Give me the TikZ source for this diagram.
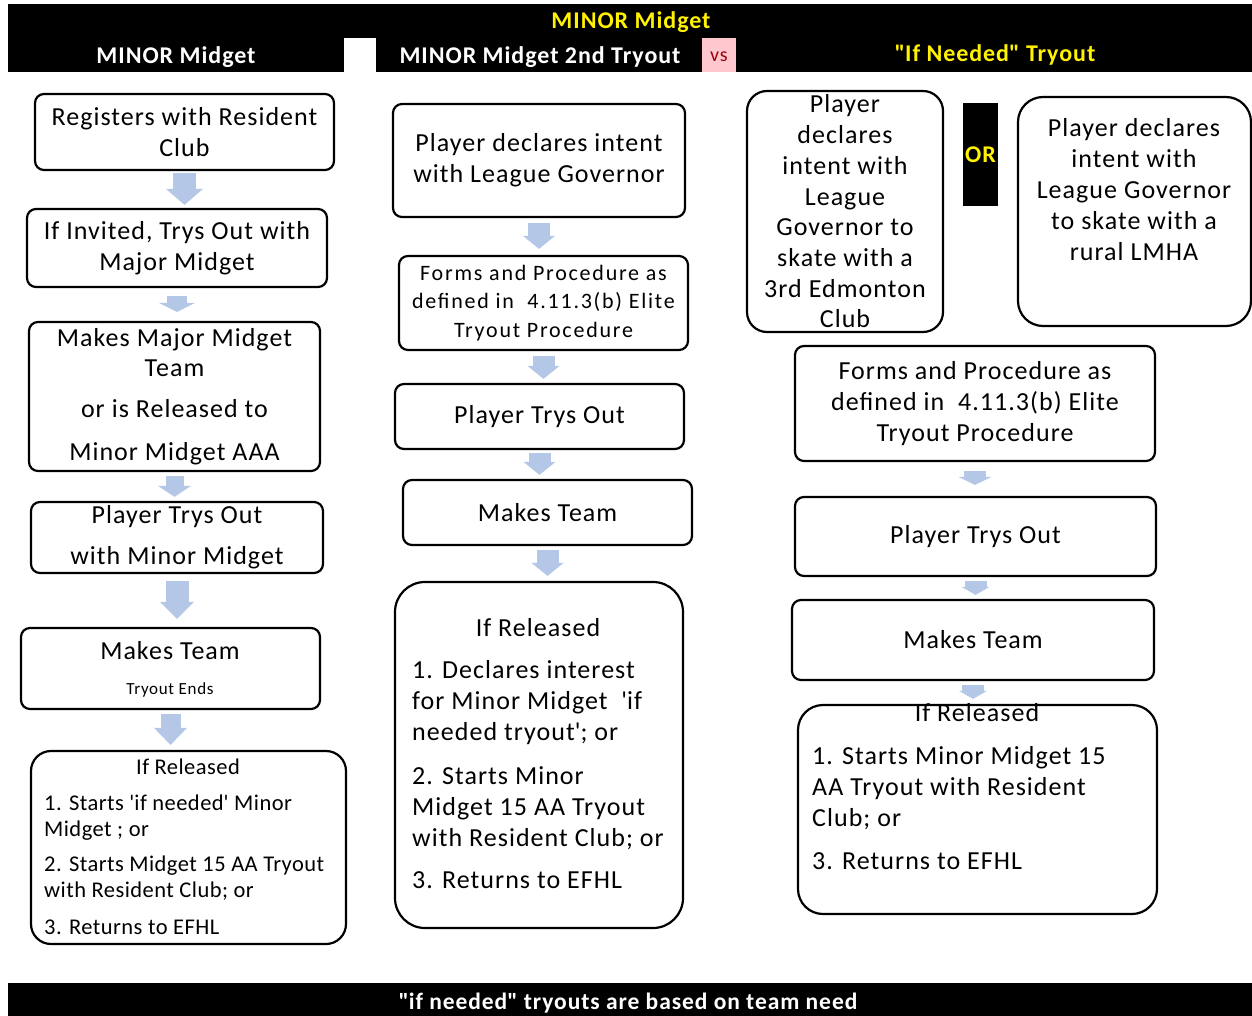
\documentclass[tikz,border=0pt]{standalone}
\usepackage{fontspec}
\setmainfont{Carlito}[LetterSpace=4]
\usetikzlibrary{arrows.meta,calc}
\definecolor{arrowblue}{RGB}{180,199,231}
\definecolor{vspink}{RGB}{255,199,206}
\definecolor{vsred}{RGB}{156,0,6}
\newcommand\fmain{\fontsize{26}{31}\selectfont}
\newcommand\fsmall{\fontsize{22.5}{26}\selectfont\addfontfeature{LetterSpace=2}}
\newcommand\fform{\fontsize{22}{28.5}\selectfont\addfontfeature{LetterSpace=8}}
\newcommand\fhead{\fontsize{24}{26}\selectfont\bfseries}
\begin{document}
\begin{tikzpicture}[x=1pt,y=-1pt,
  box/.style={draw=black, line width=2.2pt, rounded corners=9pt, inner sep=0pt, align=center, font=\fmain},
  txt/.style={inner sep=0pt, align=center, font=\fmain},
  ltxt/.style={inner sep=0pt, align=left, anchor=west},
  htxt/.style={inner sep=0pt, font=\fhead},
  barrow/.style n args={3}{draw=arrowblue, line width=#1, -{Triangle[width=#2,length=#3,line width=0pt]}},
]
\useasboundingbox (0,0) rectangle (1252,1016);
% header
\fill[black] (8,4) rectangle (1252,72);
\fill[white] (344,38) rectangle (376,72);
\fill[vspink] (702,38) rectangle (736,72);
\node[htxt, text=yellow] (h0) at (631,22) {MINOR Midget};
\node[htxt, text=white] (h1) at (176,57) {MINOR Midget};
\node[htxt, text=white] (h2) at (540,57) {MINOR Midget 2nd Tryout};
\node[inner sep=0pt, text=vsred, font=\fontsize{20}{22}\selectfont] (vs) at (719,57) {vs};
\node[htxt, text=yellow] (h3) at (995,55) {\textquotedbl If Needed\textquotedbl\ Tryout};
% footer
\fill[black] (8,983) rectangle (1252,1016);
\node[htxt, text=white, font=\fontsize{23.5}{26}\selectfont\bfseries] (foot) at (628,1003) {\textquotedbl if needed\textquotedbl\ tryouts are based on team need};

% column 1
\node[box, minimum width=299pt, minimum height=76pt] (b1) at (184.5,132) {Registers with Resident\\Club};
\node[box, minimum width=300pt, minimum height=78pt] (b2) at (177,248) {If Invited, Trys Out with\\Major Midget};
\node[box, minimum width=291pt, minimum height=149pt, font=\fontsize{26}{30}\selectfont] (b3) at (174.5,396.5) {Makes Major Midget\\Team\\[11pt]or is Released to\\[13pt]Minor Midget AAA};
\node[box, minimum width=292pt, minimum height=71pt] (b4) at (177,537.5) {Player Trys Out\\[10pt]with Minor Midget};
\node[box, minimum width=299pt, minimum height=81pt] (b5) at (170.5,668.5) {};
\node[txt] (b5a) at (170,651) {Makes Team};
\node[txt, font=\fontsize{17}{20}\selectfont] (b5b) at (170,690) {Tryout Ends};
\node[box, minimum width=315pt, minimum height=193pt, rounded corners=20pt] (b6) at (188.5,847.5) {};
\node[txt, font=\fsmall] (b6a) at (188,767) {If Released};
\node[ltxt, font=\fsmall] (b6b) at (44,865) {1. Starts \textquotesingle if needed\textquotesingle\ Minor\\Midget ; or\\[9pt]2. Starts Midget 15 AA Tryout\\with Resident Club; or\\[11pt]3. Returns to EFHL};

\draw[barrow={23pt}{37pt}{16pt}, shorten <=2pt, shorten >=3pt] (b1.south) -- (b1.south |- b2.north);
\draw[barrow={20pt}{36pt}{9pt}, shorten <=8pt, shorten >=9pt] (b2.south) -- (b2.south |- b3.north);
\draw[barrow={18pt}{33pt}{11pt}, shorten <=4pt, shorten >=4pt] (b3.south) -- (b3.south |- b4.north);
\draw[barrow={23pt}{34pt}{17pt}, shorten <=7pt, shorten >=8pt] (b4.south) -- (b4.south |- b5.north);
\draw[barrow={20pt}{33pt}{17pt}, shorten <=4pt, shorten >=5pt] (b5.south) -- (b5.south |- b6.north);

% column 2
\node[box, minimum width=292pt, minimum height=113pt] (c1) at (539,160.5) {Player declares intent\\with League Governor};
\node[box, minimum width=289pt, minimum height=94pt, font=\fform] (c2) at (543.5,303) {Forms and Procedure as\\defined in\ \ 4.11.3(b) Elite\\Tryout Procedure};
\node[box, minimum width=289pt, minimum height=65pt] (c3) at (539.5,416.5) {Player Trys Out};
\node[box, minimum width=289pt, minimum height=65pt] (c4) at (547.5,512.5) {Makes Team};
\node[box, minimum width=288pt, minimum height=346pt, rounded corners=30pt] (c5) at (539,755) {};
\node[txt] (c5a) at (538,628) {If Released};
\node[ltxt, font=\fmain] (c5b) at (412,775) {1. Declares interest\\for Minor Midget\ \ \textquotesingle if\\needed tryout\textquotesingle; or\\[13pt]2. Starts Minor\\Midget 15 AA Tryout\\with Resident Club; or\\[11pt]3. Returns to EFHL};

\draw[barrow={22pt}{32pt}{13pt}, shorten <=5pt, shorten >=6pt] (c1.south) -- (c1.south |- c2.north);
\draw[barrow={22pt}{32pt}{13pt}, shorten <=5pt, shorten >=4pt] (c2.south) -- (c2.south |- c3.north);
\draw[barrow={22pt}{32pt}{13pt}, shorten <=3pt, shorten >=4pt] (c3.south) -- (c3.south |- c4.north);
\draw[barrow={22pt}{32pt}{13pt}, shorten <=4pt, shorten >=5pt] (c4.south) -- (c4.south |- c5.north);

% column 3
\node[box, minimum width=196pt, minimum height=241pt, rounded corners=20pt, font=\fontsize{26}{30.7}\selectfont] (d1) at (845,211.5) {Player\\declares\\intent with\\League\\Governor to\\skate with a\\3rd Edmonton\\Club};
\node[fill=black, minimum width=35pt, minimum height=103pt, inner sep=0pt, text=yellow, font=\fhead] (or) at (980.5,154.5) {OR};
\node[box, minimum width=233pt, minimum height=229pt, rounded corners=25pt] (d2) at (1134.5,211.5) {};
\node[txt] (d2t) at (1134,190) {Player declares\\intent with\\League Governor\\to skate with a\\rural LMHA};
\node[box, minimum width=360pt, minimum height=115pt] (d3) at (975,403.5) {Forms and Procedure as\\defined in\ \ 4.11.3(b) Elite\\Tryout Procedure};
\node[box, minimum width=361pt, minimum height=79pt] (d4) at (975.5,536.5) {Player Trys Out};
\node[box, minimum width=362pt, minimum height=80pt] (d5) at (973,640) {Makes Team};
\node[box, minimum width=359pt, minimum height=209pt, rounded corners=25pt] (d6) at (977.5,809.5) {};
\node[txt] (d6a) at (977,713) {If Released};
\node[ltxt, font=\fmain] (d6b) at (812,808.5) {1. Starts Minor Midget 15\\AA Tryout with Resident\\Club; or\\[12pt]3. Returns to EFHL};

\draw[barrow={22pt}{33pt}{8pt}, shorten <=9pt, shorten >=11pt] (d3.south) -- (d3.south |- d4.north);
\draw[barrow={22pt}{28pt}{8pt}, shorten <=4pt, shorten >=4pt] (d4.south) -- (d4.south |- d5.north);
\draw[barrow={22pt}{28pt}{8pt}, shorten <=4pt, shorten >=5pt] (d5.south) -- (d5.south |- d6.north);
\end{tikzpicture}
\end{document}
